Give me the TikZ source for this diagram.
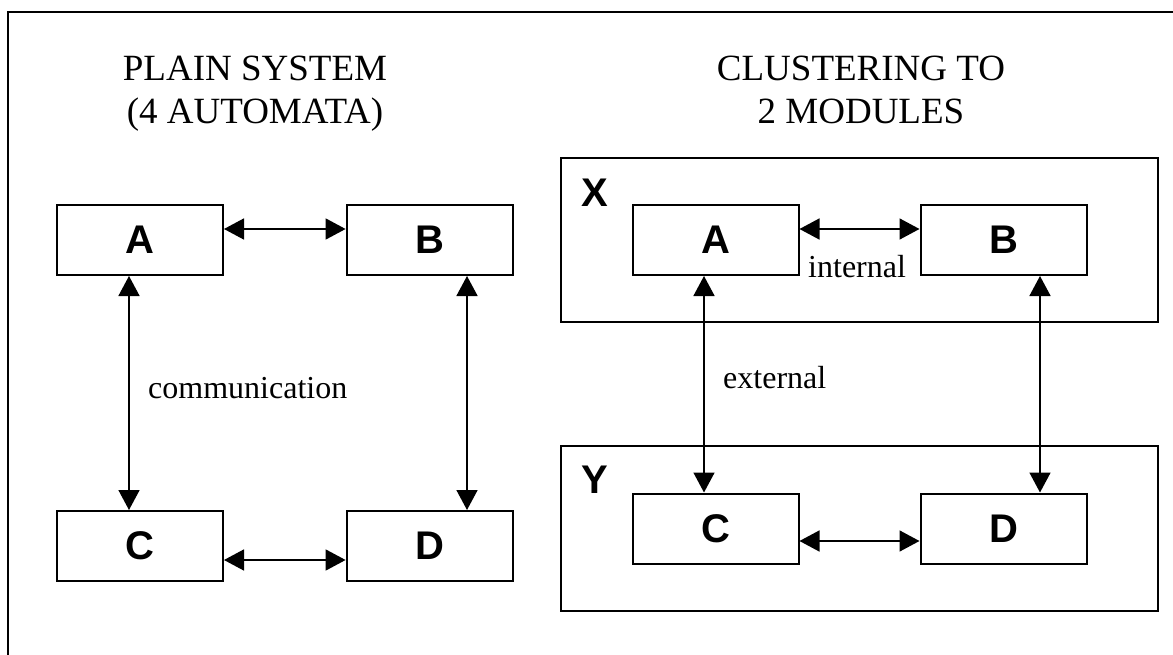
\documentclass[tikz,border=0pt]{standalone}
\usepackage{fontspec}
\setmainfont{Liberation Serif}
\setsansfont{Liberation Sans}
\usetikzlibrary{arrows.meta}

\tikzset{
	automaton/.style={draw, line width=2pt, minimum width=166pt, minimum height=70pt, inner sep=0pt, font=\fontsize{40}{40}\selectfont\sffamily\bfseries},
	module/.style={draw, line width=2pt, inner sep=0pt},
	modlabel/.style={inner sep=0pt, font=\fontsize{40}{40}\selectfont\sffamily\bfseries},
	comm/.style={line width=1.6pt, {Triangle[length=20pt,width=21pt]}-{Triangle[length=20pt,width=21pt]}},
	heading/.style={anchor=base, inner sep=0pt, font=\fontsize{37}{44}\selectfont},
	commlabel/.style={anchor=base west, inner sep=0pt, font=\fontsize{32}{36}\selectfont}
}

\begin{document}
\begin{tikzpicture}[x=1pt, y=-1pt]
			%%%%% START %%%%%
			\useasboundingbox (0,0) rectangle (1173,655);
			
			\draw[line width=1.8pt] (8,655) -- (8,12) -- (1173,12);
			
			% plain system
			\node[heading] (plainA) at (255,80.5) {PLAIN SYSTEM};
			\node[heading] (plainB) at (255,124) {(4 AUTOMATA)};
			
			\node[automaton] (lA) at (140,240) {A};
			\node[automaton] (lB) at (429.6,240) {B};
			\node[automaton] (lC) at (140,546) {C};
			\node[automaton] (lD) at (429.6,546) {D};
			
			\draw[comm] ([yshift=11pt]lA.east) -- ([yshift=11pt]lB.west);
			\draw[comm] ([yshift=-14pt]lC.east) -- ([yshift=-14pt]lD.west);
			\draw[comm] ([xshift=-11pt]lA.south) -- ([xshift=-11pt]lC.north);
			\draw[comm] ([xshift=37.4pt]lB.south) -- ([xshift=37.4pt]lD.north);
			
			\node[commlabel] (commtxt) at (148,398.5) {communication};
			
			% clustering
			\node[heading] (clustA) at (861,80.5) {CLUSTERING TO};
			\node[heading] (clustB) at (861,124) {2 MODULES};
			
			\node[module, minimum width=597pt, minimum height=164.5pt] (modX) at (859.5,240) {};
			\node[module, minimum width=597pt, minimum height=165pt] (modY) at (859.5,528.3) {};
			\node[modlabel] (labX) at (594.5,192.5) {X};
			\node[modlabel] (labY) at (594.5,480) {Y};
			
			\node[automaton] (rA) at (715.5,240) {A};
			\node[automaton] (rB) at (1003.5,240) {B};
			\node[automaton] (rC) at (715.5,528.5) {C};
			\node[automaton] (rD) at (1003.5,528.5) {D};
			
			\draw[comm] ([yshift=11pt]rA.east) -- ([yshift=11pt]rB.west);
			\draw[comm] ([yshift=-12.5pt]rC.east) -- ([yshift=-12.5pt]rD.west);
			\draw[comm] ([xshift=-11.5pt]rA.south) -- ([xshift=-11.5pt]rC.north);
			\draw[comm] ([xshift=36.5pt]rB.south) -- ([xshift=36.5pt]rD.north);
			
			\node[commlabel] (inttxt) at (808,277) {internal};
			\node[commlabel] (exttxt) at (723,388) {external};
			
			%%%%% END %%%%%
\end{tikzpicture}
\end{document}
